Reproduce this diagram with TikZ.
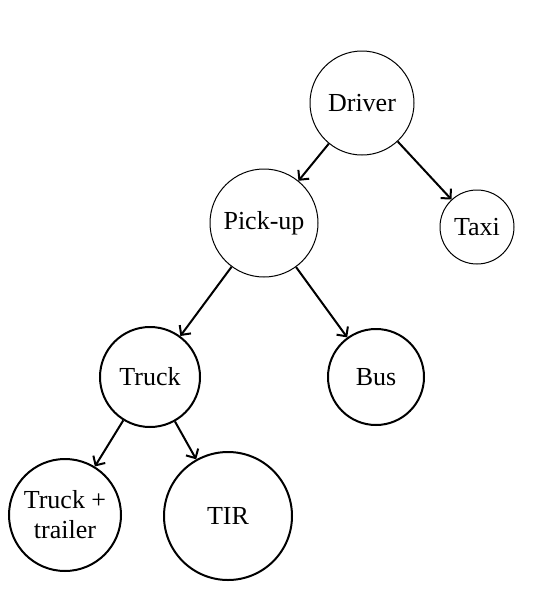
\documentclass[tikz,border=0pt]{standalone}
\usepackage{fontspec}
\setmainfont{Liberation Serif}
\usetikzlibrary{arrows.meta}
\begin{document}
\begin{tikzpicture}[x=1pt,y=-1pt,
    every node/.style={font=\fontsize{26}{30}\selectfont},
    light/.style={circle,draw,line width=1pt,inner sep=0pt,align=center},
    heavy/.style={circle,draw,line width=2pt,inner sep=0pt,align=center},
    link/.style={-{Straight Barb[length=7pt,width=14pt]},line width=2pt}]

    % Fix the page size
    \useasboundingbox (0,0) rectangle (535,592);

    % Upper level
    \node[light,minimum size=104pt] (driver) at (362,103) {Driver};
    \node[light,minimum size=108pt] (pickup) at (264,223) {Pick-up};
    \node[light,minimum size=74pt] (taxi) at (477,227) {Taxi};

    % Lower level
    \node[heavy,minimum size=100pt] (truck) at (150,377) {Truck};
    \node[heavy,minimum size=96pt] (bus) at (376,377) {Bus};
    \node[heavy,minimum size=112pt] (trailer) at (65,515) {Truck +\\trailer};
    \node[heavy,minimum size=128pt] (tir) at (228,516) {TIR};

    % Draw the links
    \draw[link] (driver) -- (pickup);
    \draw[link] (driver) -- (taxi);
    \draw[link] (pickup) -- (truck);
    \draw[link] (pickup) -- (bus);
    \draw[link] (truck) -- (trailer);
    \draw[link] (truck) -- (tir);

\end{tikzpicture}
\end{document}
